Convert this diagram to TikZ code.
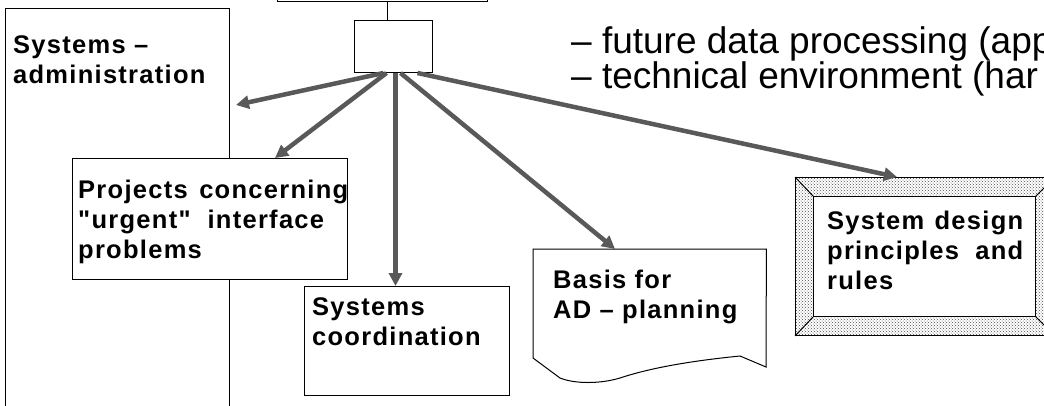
\documentclass[tikz,border=0pt]{standalone}
\usepackage{fontspec}
\setmainfont{Liberation Sans}
\newfontfamily\boxfont{Liberation Sans}[LetterSpace=5]
\usetikzlibrary{positioning,arrows.meta,patterns}

\begin{document}
\begin{tikzpicture}[x=1pt,y=-1pt,
		box/.style={draw, line width=1pt, fill=white, inner sep=0pt, anchor=north west},
		boxtext/.style={inner sep=0pt, align=left, font=\boxfont\bfseries\fontsize{25.5}{30}\selectfont},
		flow/.style={line width=4.5pt, draw=black!65, -{Triangle[length=13pt,width=13pt]}}]
			\useasboundingbox (0,0) rectangle (1044,405);
			\clip (0,0) rectangle (1044,405);
			
			% boxes
			\node[box, minimum width=210, minimum height=60] (upper) at (277,-59) {};
			\node[box, minimum width=78, minimum height=52] (hub) at (354,20) {};
			\draw[line width=1pt] ([xshift=-6pt]hub.north) -- ([xshift=-6pt]hub.north |- upper.south);
			
			\node[box, minimum width=224, minimum height=420] (admin) at (5,8) {};
			\node[boxtext, below right=27pt and 8pt of admin.north west] (admintxt) {Systems –\\administration};
			
			\node[box, minimum width=275, minimum height=121] (projects) at (72,158) {};
			\node[boxtext, text width=270pt, below right=22pt and 6pt of projects.north west] (projtxt)
				{Projects\hfill concerning\\"urgent" \ interface\\problems};
			
			\node[box, minimum width=205, minimum height=109] (coord) at (304,286) {};
			\node[boxtext, below right=11pt and 8pt of coord.north west] (coordtxt) {Systems\\coordination};
			
			% document shape with torn bottom
			\node[inner sep=0pt, anchor=north west, minimum width=233, minimum height=111] (basis) at (533,249) {};
			\draw[line width=1pt] (533,358) -- (basis.north west) -- (basis.north east) -- (766,367) -- (740,356)
				.. controls (690,361) and (650,368) .. (620,378) .. controls (600,384) and (575,384) .. (560,378) -- cycle;
			\node[boxtext, below right=21pt and 20pt of basis.north west] (basistxt) {Basis for\\AD – planning};
			
			% framed box
			\node[box, fill=none, pattern=crosshatch dots, pattern color=black!70, minimum width=259, minimum height=158] (design) at (795,177) {};
			\node[box, minimum width=222, minimum height=120] (designin) at (813,196) {};
			\draw[line width=1pt] (design.north west) -- (designin.north west);
			\draw[line width=1pt] (design.south west) -- (designin.south west);
			\draw[line width=1pt] (design.north east) -- (designin.north east);
			\draw[line width=1pt] (design.south east) -- (designin.south east);
			\node[boxtext, text width=196pt, below right=15pt and 14pt of designin.north west] (designtxt)
				{System\hfill design\\principles\hfill and\\rules};
			
			% text on the right
			\node[inner sep=0pt, anchor=north west, align=left, font=\fontsize{37}{35}\selectfont] (topics) at (571,26)
				{– future data processing (app\\– technical environment (har};
			
			% arrows
			\draw[flow] ([xshift=-10pt]hub.south) -- ([shift={(6,97)}]admin.north east);
			\draw[flow] ([xshift=-7pt]hub.south) -- ([shift={(203,0)}]projects.north west);
			\draw[flow] ([xshift=2pt]hub.south) -- ([xshift=2pt]hub.south |- coord.north);
			\draw[flow] ([xshift=7pt]hub.south) -- ([shift={(82,0)}]basis.north west);
			\draw[flow] ([xshift=24pt]hub.south) -- ([shift={(102,0)}]design.north west);
			
\end{tikzpicture}
\end{document}
